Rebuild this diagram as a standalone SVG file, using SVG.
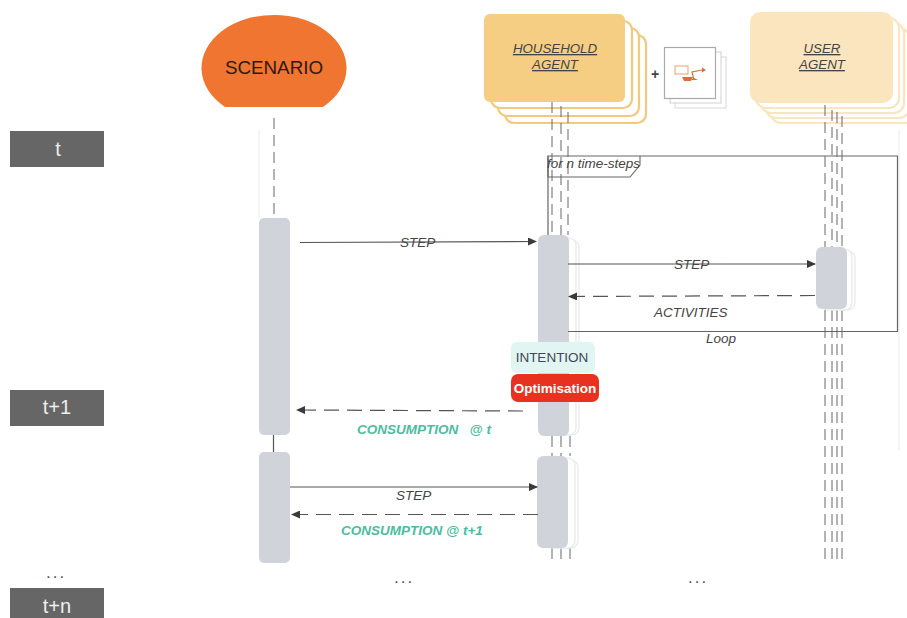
<svg xmlns="http://www.w3.org/2000/svg" width="907" height="618" viewBox="0 0 907 618">
<defs>
<marker id="a" markerWidth="9" markerHeight="8" refX="8" refY="4" orient="auto" markerUnits="userSpaceOnUse"><path d="M0 0L9 4L0 8Z" fill="#3a3a3a"/></marker>
</defs>
<style>
text{font-family:"Liberation Sans",Arial,sans-serif}
.i{font-style:italic;fill:#444;font-size:13.5px}
.u{font-style:italic;fill:#444;font-size:13.3px;text-decoration:underline;text-anchor:middle}
.g{font-style:italic;font-weight:bold;fill:#4bbd9f;font-size:13.5px}
.d{font-size:17px;fill:#555;letter-spacing:2px}
.box{fill:#d0d4da}
.bk{fill:#fff;stroke:#e6e8ec;stroke-width:1.2}
.ll{stroke:#666;stroke-width:1;fill:none;stroke-dasharray:11 6}
.m{stroke:#555;stroke-width:1.2;fill:none}
.dm{stroke:#555;stroke-width:1.2;fill:none;stroke-dasharray:15 8}
.h{fill:#fff;stroke:#f3c97f;stroke-width:2.2}
.us{fill:#fff;stroke:#fae5bf;stroke-width:2.2}
.t{fill:#666}
.tt{fill:#eee;font-size:20px;text-anchor:middle}
</style>
<rect width="907" height="618" fill="#fff"/>
<g id="time-labels">
<g id="t0"><rect class="t" x="10" y="131" width="94" height="36"/><text class="tt" x="58" y="156">t</text></g>
<g id="t1"><rect class="t" x="10" y="390" width="94" height="36"/><text class="tt" x="57" y="414">t+1</text></g>
<g id="tn"><rect class="t" x="10" y="588" width="94" height="30"/><text class="tt" x="57" y="613">t+n</text></g>
<text class="d" x="46" y="578">...</text>
</g>
<g id="scenario">
<path d="M225 107A72.500 53 0 1 1 323 107Z" fill="#ef7530"/>
<text x="274" y="74" font-size="18.8" text-anchor="middle" fill="#2a1a10">SCENARIO</text>
</g>
<g id="household-agent">
<rect class="h" x="505" y="35" width="141" height="88" rx="9"/>
<rect class="h" x="498" y="28" width="141" height="88" rx="9"/>
<rect class="h" x="491" y="21" width="141" height="87" rx="9"/>
<rect x="484" y="14" width="141" height="88" rx="6" fill="#f6ce83"/>
<text class="u" x="555" y="53">HOUSEHOLD</text><text class="u" x="555" y="69">AGENT</text>
</g>
<g id="plus-icon">
<text x="655" y="79" font-size="14" font-weight="bold" fill="#444" text-anchor="middle">+</text>
<rect x="675" y="57" width="51" height="51" fill="#fff" stroke="#d8d8d8"/>
<rect x="670" y="52" width="51" height="51" fill="#fff" stroke="#d0d0d0"/>
<rect x="664.500" y="47.500" width="51" height="51" fill="#fff" stroke="#aaa" stroke-width="1.2"/>
<rect x="675" y="66" width="13" height="8" fill="#fff" stroke="#eda06a"/>
<path d="M682 77H693L691 81H684Z" fill="#d9703a"/>
<path d="M694 80L692 72L702 70" fill="none" stroke="#d9703a" stroke-width="1.2"/>
<path d="M702 67.500L706 70L702 72.500ZM694 78L698 80H691Z" fill="#d9703a"/>
</g>
<g id="user-agent">
<rect class="us" x="771" y="33" width="143" height="90" rx="10"/>
<rect class="us" x="766" y="28" width="143" height="90" rx="10"/>
<rect class="us" x="761" y="23" width="143" height="90" rx="10"/>
<rect class="us" x="756" y="18" width="143" height="90" rx="10"/>
<rect x="750" y="12" width="143" height="91" rx="10" fill="#fae5bf"/>
<text class="u" x="822" y="53">USER</text><text class="u" x="822" y="69">AGENT</text>
</g>
<g id="lifelines">
<path d="M259 130V218M899 130V450" stroke="#ececef" stroke-width="1" fill="none"/>
<path class="ll" d="M274 118V218"/>
<path class="m" d="M273.500 434V452"/>
<path class="ll" d="M552 102V235M561 106V235M568 112V235"/>
<path class="ll" d="M552 436V456M561 436V456M570 436V456M552 548V562M561 548V562M570 548V562"/>
<path class="ll" d="M825 105V248M832 110V248M837 112V248M842 116V248"/>
<path class="ll" d="M825 310V562M832 310V562M837 310V562M842 310V562"/>
</g>
<g id="scenario-activations">
<rect class="box" x="259" y="218" width="31" height="217" rx="5"/>
<rect class="box" x="259" y="452" width="31" height="111" rx="5"/>
</g>
<g id="household-activations">
<rect class="bk" x="548" y="240" width="31" height="195" rx="7"/>
<rect class="bk" x="545" y="238" width="31" height="197" rx="7"/>
<rect class="box" x="538" y="235" width="31" height="201" rx="6"/>
<rect class="bk" x="547" y="460" width="31" height="88" rx="7"/>
<rect class="bk" x="544" y="458" width="31" height="90" rx="7"/>
<rect class="box" x="537" y="456" width="31" height="92" rx="6"/>
</g>
<g id="user-activations">
<rect class="bk" x="824" y="251" width="31" height="59" rx="7"/>
<rect class="bk" x="821" y="249" width="31" height="61" rx="7"/>
<rect class="box" x="816" y="247" width="31" height="62" rx="6"/>
</g>
<g id="connectors">
<path class="m" d="M300 242.500L536 241.500" marker-end="url(#a)"/>
<path class="m" d="M568 264H815" marker-end="url(#a)"/>
<path class="dm" d="M815 295.500L569 296.500" marker-end="url(#a)"/>
<path class="dm" d="M523 411L297 410" marker-end="url(#a)"/>
<path class="m" d="M290 487H537" marker-end="url(#a)"/>
<path class="dm" d="M538 514.500H292" marker-end="url(#a)"/>
<path d="M548 235V156H897.500V331.500H568" fill="none" stroke="#666" stroke-width="1.2"/>
<path d="M548 156V177H630L640 165V156" fill="none" stroke="#666" stroke-width="1.1"/>
</g>
<g id="intention"><rect x="511" y="342" width="84" height="31" rx="6" fill="#e1f6f3"/><text x="552" y="362" font-size="13.500" fill="#445" text-anchor="middle">INTENTION</text></g>
<g id="optimisation"><rect x="511" y="374" width="88" height="28" rx="7" fill="#e8321f"/><text x="555" y="393" font-size="13.500" font-weight="bold" fill="#fff" text-anchor="middle">Optimisation</text></g>
<g id="labels">
<text class="i" x="400" y="247">STEP</text>
<text class="i" x="674" y="269">STEP</text>
<text class="i" x="654" y="317">ACTIVITIES</text>
<text class="i" x="706" y="343">Loop</text>
<text class="i" x="396" y="500">STEP</text>
<text class="i" x="547" y="168">for n time-steps</text>
<text class="g" x="357" y="434" xml:space="preserve">CONSUMPTION   @ t</text>
<text class="g" x="341" y="535">CONSUMPTION @ t+1</text>
<text class="d" x="394" y="583">...</text>
<text class="d" x="688" y="583">...</text>
</g>
</svg>
